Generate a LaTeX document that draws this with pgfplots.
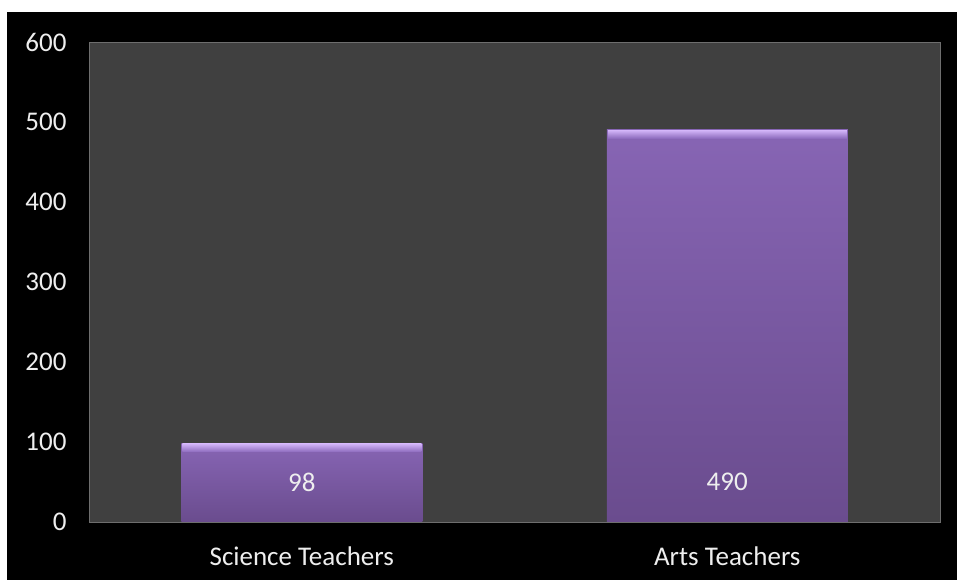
\documentclass[border=0pt]{standalone}
\usepackage{pgfplots}
\pgfplotsset{compat=1.18}
\usepackage{fontspec}
\setmainfont{Carlito}

\definecolor{plotbg}{HTML}{404040}
\definecolor{bartop}{HTML}{8765B4}
\definecolor{barbot}{HTML}{6A4C8E}
\definecolor{bevtop}{HTML}{D2B4F8}
\definecolor{bevbot}{HTML}{8E6CBE}
\definecolor{framegray}{HTML}{6E6E6E}
\definecolor{labelc}{HTML}{EEEEEE}

\pgfplotsset{
  purplebar/.style={ybar, bar width=241pt, bar shift=0pt, draw=none,
    top color=bartop, bottom color=barbot,
    nodes near coords, point meta=y,
    visualization depends on={rawy \as \ry},
    every node near coord/.style={anchor=center, text=labelc,
      font=\fontsize{27}{32}\selectfont, yshift={(50-\ry)*0.8}}},
  bevel/.style={ybar, bar width=241pt, bar shift=0pt, draw=none, fill=none,
    nodes near coords={},
    every node near coord/.style={anchor=north, inner sep=0pt,
      minimum width=239pt, minimum height=8pt,
      top color=bevtop, bottom color=bevbot}},
}

\begin{document}
\begin{tikzpicture}[x=1pt,y=1pt]
% page and chart backgrounds
\fill[white] (0,0) rectangle (957,580);
\fill[black] (7,0) rectangle (957,568);
\begin{axis}[
  at={(89pt,58pt)}, anchor=south west,
  scale only axis, width=851pt, height=480pt,
  xmin=-0.5, xmax=1.5, ymin=0, ymax=600,
  xtick={0,1}, xticklabels={Science Teachers, Arts Teachers},
  ytick={0,100,...,600},
  major tick length=0pt,
  axis background/.style={fill=plotbg},
  axis line style={draw=framegray, line width=0.8pt},
  tick label style={font=\fontsize{27}{32}\selectfont, text=labelc},
  yticklabel style={xshift=-19pt},
  xticklabel style={yshift=-21pt},
  /pgf/number format/assume math mode=true,
]
% one plot per bar so each carries its own gradient
\addplot[purplebar] coordinates {(0,98)};
\addplot[purplebar] coordinates {(1,490)};
% bevel highlight along the top of each bar
\addplot[bevel] coordinates {(0,98)};
\addplot[bevel] coordinates {(1,490)};
\end{axis}
\end{tikzpicture}
\end{document}
